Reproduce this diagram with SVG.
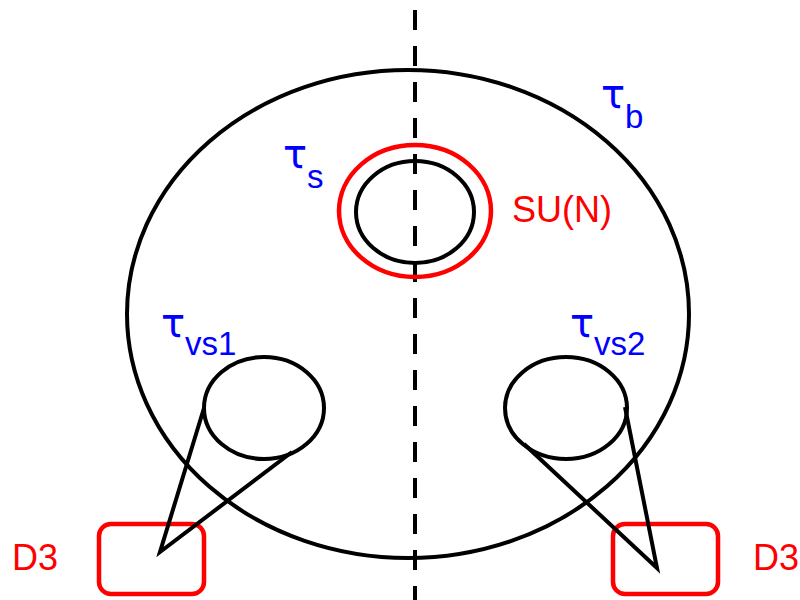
<svg xmlns="http://www.w3.org/2000/svg" width="800" height="600" viewBox="0 0 800 600">
<style>
.k{fill:none;stroke:#000;stroke-width:4}
.r{fill:none;stroke:#f00;stroke-width:4.5}
.b{fill:#00f;font-family:"Liberation Sans",Arial,sans-serif;font-size:33px}
.tau{font-family:"DejaVu Sans",sans-serif;font-size:40px}
.t{fill:#f00;font-family:"Liberation Sans",Arial,sans-serif;font-size:36px}
</style>
<rect width="800" height="600" fill="#fff"/>
<g id="outer"><ellipse class="k" cx="408" cy="314" rx="281" ry="244"/></g>
<g id="axis"><line class="k" x1="415" y1="10" x2="415" y2="600" stroke-dasharray="20 16" stroke-width="4.5"/></g>
<g id="inner"><ellipse class="r" cx="415" cy="211" rx="76" ry="66"/><ellipse class="k" cx="415" cy="212" rx="59" ry="51"/></g>
<g id="vs1"><ellipse class="k" cx="264" cy="408" rx="60" ry="51"/></g>
<g id="vs2"><ellipse class="k" cx="566" cy="408" rx="61" ry="51"/></g>
<g id="d3left"><rect class="r" x="99" y="524" width="105" height="70" rx="12"/></g>
<g id="d3right"><rect class="r" x="613" y="524" width="105" height="70" rx="12"/></g>
<g id="connectors">
<polyline class="k" points="204,408 160,552 292,452" stroke-linejoin="miter"/>
<polyline class="k" points="625,407 657,568 524,444" stroke-linejoin="miter"/>
</g>
<g id="labels">
<text class="b" x="601" y="108"><tspan class="tau">τ</tspan><tspan dy="20">b</tspan></text>
<text class="b" x="283" y="168"><tspan class="tau">τ</tspan><tspan dy="20">s</tspan></text>
<text class="b" x="161" y="337"><tspan class="tau">τ</tspan><tspan dy="18">vs1</tspan></text>
<text class="b" x="570" y="337"><tspan class="tau">τ</tspan><tspan dy="18">vs2</tspan></text>
<text class="t" x="512" y="222" font-size="34">SU(N)</text>
<text class="t" x="12" y="570">D3</text>
<text class="t" x="753" y="570">D3</text>
</g>
</svg>
